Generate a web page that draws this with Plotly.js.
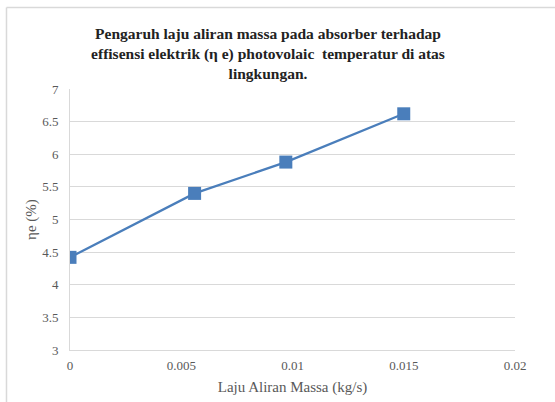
<!DOCTYPE html>
<html>
<head>
<meta charset="utf-8">
<script src="https://cdn.plot.ly/plotly-3.0.1.min.js"></script>
<style>html,body{margin:0;padding:0;background:#fff;}#chart{width:555px;height:402px;}</style>
</head>
<body>
<div id="chart"></div>
<script>
const massFlow = [0, 0.0056, 0.0097, 0.015];
const efficiency = [4.42, 5.40, 5.88, 6.62];
const xTicks = [0, 0.005, 0.01, 0.015, 0.02];
const xTickLabels = ['0', '0.005', '0.01', '0.015', '0.02'];
const yTicks = [3, 3.5, 4, 4.5, 5, 5.5, 6, 6.5, 7];
const yTickLabels = ['3', '3.5', '4', '4.5', '5', '5.5', '6', '6.5', '7'];

const font = "'Liberation Serif', 'Times New Roman', serif";
const trace = {
  x: massFlow, y: efficiency, type: 'scatter', mode: 'lines+markers',
  line: {color: '#4a7ebb', width: 2.25},
  marker: {symbol: 'square', size: 13, color: '#4a7ebb'},
  showlegend: false, hoverinfo: 'none'
};
const layout = {
  width: 555, height: 402,
  margin: {l: 70, r: 40, t: 89, b: 52},
  paper_bgcolor: '#fff', plot_bgcolor: '#fff',
  font: {family: font, color: '#595959', size: 12},
  title: {
    text: 'Pengaruh laju aliran massa pada absorber terhadap<br>effisensi elektrik (η e) photovolaic  temperatur di atas<br>lingkungan.',
    font: {family: font, size: 15.5, color: '#222', weight: 'bold'},
    x: 268/555, xanchor: 'center', xref: 'container',
    y: 1 - 39/402, yanchor: 'top', yref: 'container'
  },
  xaxis: {
    range: [0, 0.02], tickvals: xTicks, ticktext: xTickLabels,
    showgrid: false, zeroline: false, showline: true, linecolor: '#d9d9d9', linewidth: 1,
    ticks: '', ticklabelstandoff: 3,
    tickfont: {family: font, size: 13, color: '#595959'},
    title: {text: 'Laju Aliran Massa (kg/s)', font: {family: font, size: 15, color: '#595959'}, standoff: 9},
    automargin: false
  },
  yaxis: {
    range: [3, 7], tickvals: yTicks, ticktext: yTickLabels,
    showgrid: true, gridcolor: '#d9d9d9', gridwidth: 1, zeroline: false,
    showline: true, linecolor: '#d9d9d9', linewidth: 1,
    ticks: '', ticklabelstandoff: 8,
    tickfont: {family: font, size: 13, color: '#595959'},
    title: {text: 'ηe (%)', font: {family: font, size: 15, color: '#595959'}, standoff: 1},
    automargin: false
  },
  shapes: [
    {type: 'line', xref: 'paper', yref: 'paper', x0: -0.1427, x1: -0.1427, y0: -0.4, y1: 1.3123, line: {color: '#d9d9d9', width: 1.5}},
    {type: 'line', xref: 'paper', yref: 'paper', x0: -0.1427, x1: 1.2, y0: 1.3123, y1: 1.3123, line: {color: '#d9d9d9', width: 1.5}}
  ]
};
Plotly.newPlot('chart', [trace], layout, {displayModeBar: false, staticPlot: true});
</script>
</body>
</html>
